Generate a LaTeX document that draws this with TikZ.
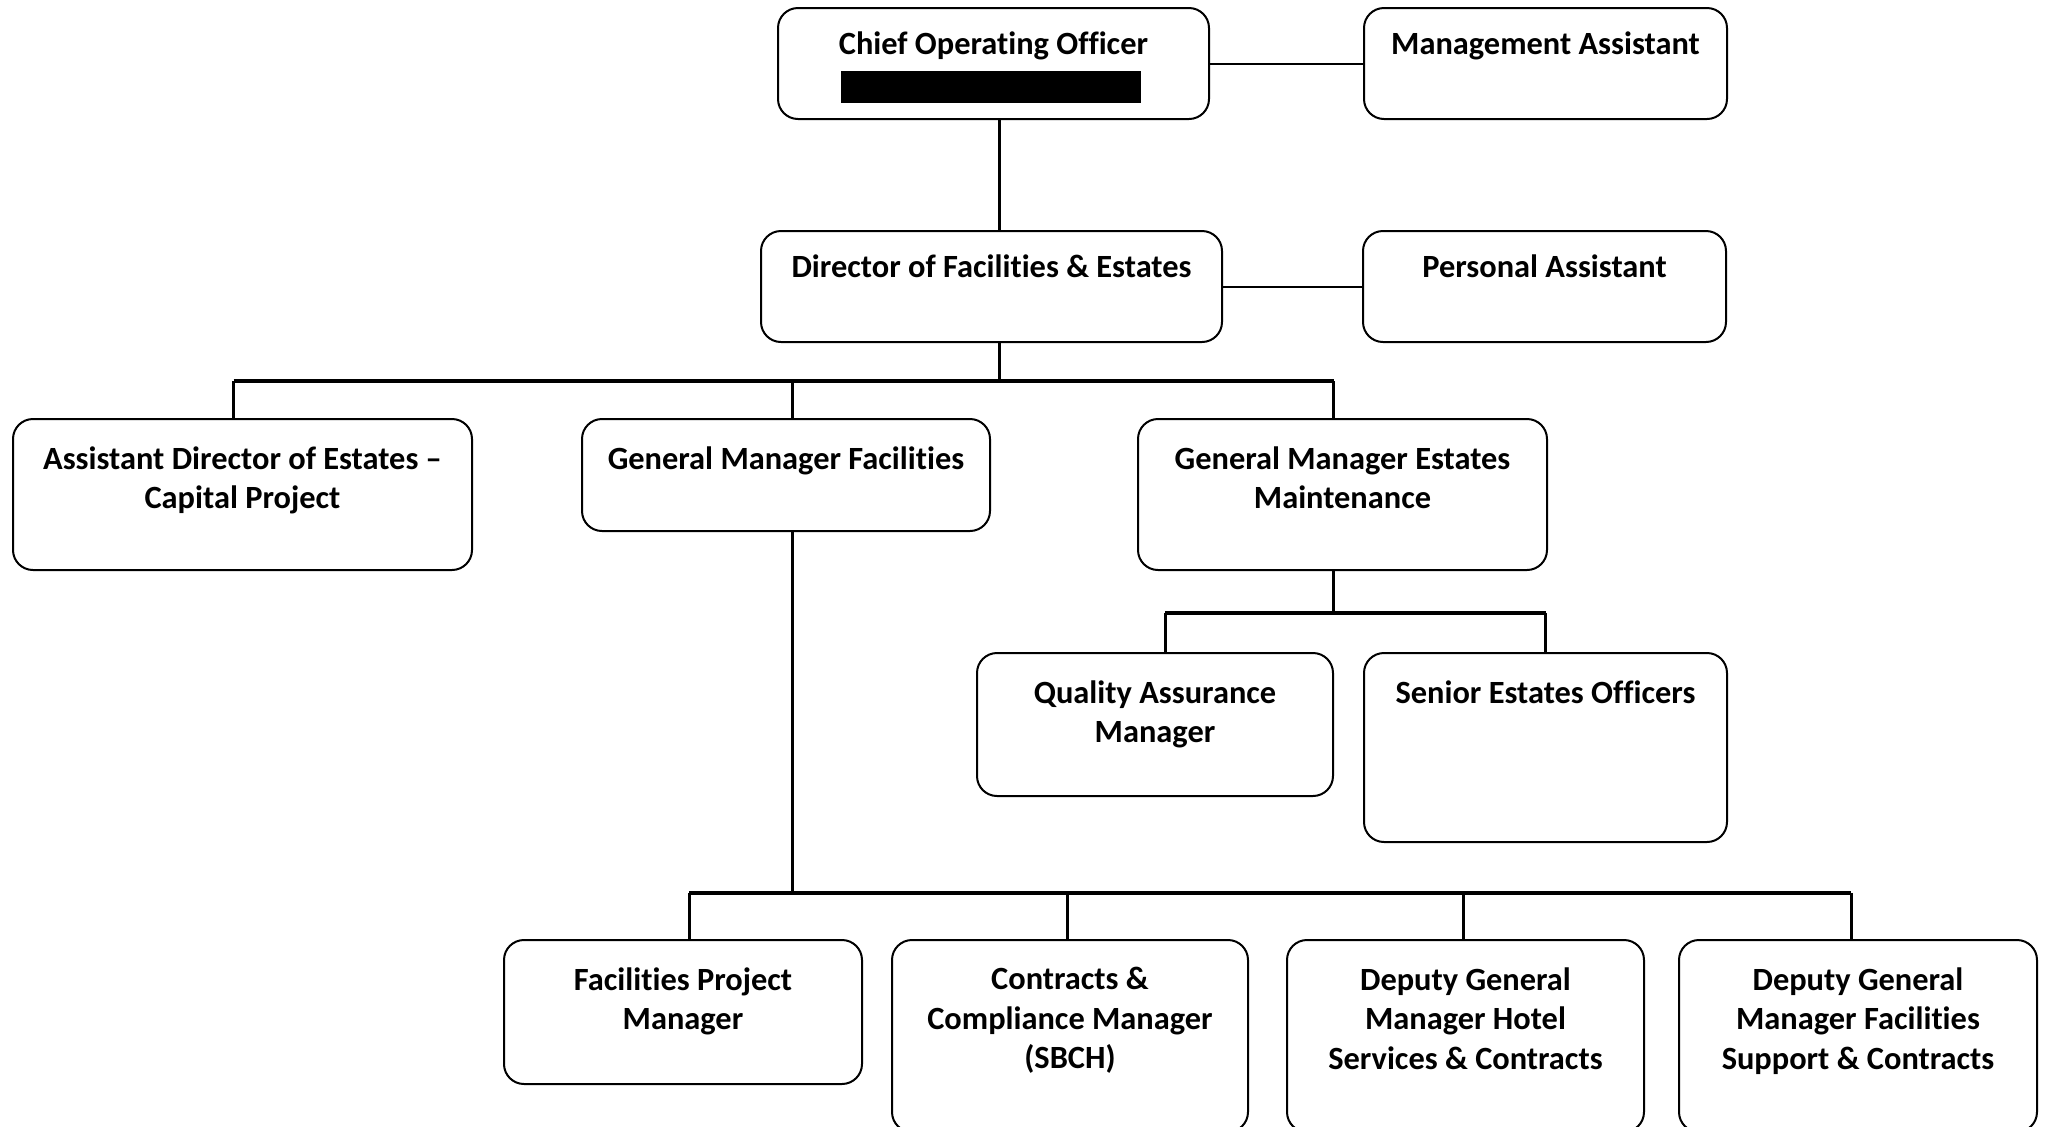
\documentclass[tikz,border=0pt]{standalone}
\usepackage{fontspec}
\setmainfont{Carlito}[Ligatures=CommonOff]
\usepackage{tikz}
\usetikzlibrary{positioning,calc}
\tikzset{post/.style={draw=black,line width=1pt,rounded corners=10pt,inner sep=0pt,fill=white}}
\tikzset{role/.style={anchor=north,yshift=-14pt,align=center,inner sep=0pt,font=\fontsize{16.2}{19.8}\selectfont\bfseries}}

\begin{document}
\begin{tikzpicture}[x=0.5pt,y=-0.5pt]
    \tikzstyle{bus}=[line width=2pt]
    \tikzstyle{drop}=[line width=1.5pt]
    \tikzstyle{side}=[line width=1pt]
    \useasboundingbox (0,0) rectangle (2047,1126);
    \clip (0,0) rectangle (2047,1126);
    % top rows
    \node[post,minimum width=215.5pt,minimum height=55.5pt,label={[role,yshift=2pt]north:Chief Operating Officer}] (coo) at (993.5,63.5) {};
    \node[fill=black,minimum width=150pt,minimum height=16pt,inner sep=0pt] (redact) at (991,87) {};
    \node[post,minimum width=181.5pt,minimum height=55.5pt,label={[role,yshift=2pt]north:Management Assistant}] (ma) at (1545.5,63.5) {};
    \node[post,minimum width=230.5pt,minimum height=55.5pt,label={[role,yshift=2pt]north:Director of Facilities \& Estates}] (dfe) at (991.5,286.5) {};
    \node[post,minimum width=181.5pt,minimum height=55.5pt,label={[role,yshift=2pt]north:Personal Assistant}] (pa) at (1544.5,286.5) {};
    % managers
    \node[post,minimum width=229.5pt,minimum height=75.5pt,label={[role]north:{Assistant Director of Estates –\\Capital Project}}] (ad) at (242.5,494.5) {};
    \node[post,minimum width=204pt,minimum height=56pt,label={[role]north:General Manager Facilities}] (gmf) at (786,475) {};
    \node[post,minimum width=204.5pt,minimum height=75.5pt,label={[role]north:{General Manager Estates\\Maintenance}}] (gme) at (1342.5,494.5) {};
    \node[post,minimum width=178pt,minimum height=71.5pt,label={[role]north:{Quality Assurance\\Manager}}] (qa) at (1155,724.5) {};
    \node[post,minimum width=181.5pt,minimum height=94.5pt,label={[role]north:Senior Estates Officers}] (seo) at (1545.5,747.5) {};
    % bottom row
    \node[post,minimum width=179pt,minimum height=72pt,label={[role]north:{Facilities Project\\Manager}}] (fpm) at (683,1012) {};
    \node[post,minimum width=178pt,minimum height=96pt,label={[role]north:{Contracts \&\\Compliance Manager\\(SBCH)}}] (ccm) at (1070,1036) {};
    \node[post,minimum width=178.5pt,minimum height=96pt,label={[role]north:{Deputy General\\Manager Hotel\\Services \& Contracts}}] (dgmh) at (1465.5,1036) {};
    \node[post,minimum width=179pt,minimum height=96pt,label={[role]north:{Deputy General\\Manager Facilities\\Support \& Contracts}}] (dgmf) at (1858,1036) {};

    \draw[side] (coo) -- (ma);
    \draw[side] (dfe) -- (pa);
    \draw[drop] ([xshift=2.75pt]coo.south) -- ([xshift=2.75pt]coo.south |- dfe.north);

    \draw[drop] ([xshift=3.75pt]dfe.south) -- ++(0,38) coordinate (b1);
    \draw[bus] ([xshift=-4.5pt]b1 -| ad.north) -- ([xshift=-4.5pt]b1 -| gme.north);
    \foreach \n/\dx in {ad/-4.5,gmf/3,gme/-4.5} \draw[drop] ([xshift=\dx pt]b1 -| \n.north) -- ([xshift=\dx pt]\n.north);

    \draw[drop] ([xshift=-4.5pt]gme.south) -- ++(0,42) coordinate (b2);
    \draw[bus] ([xshift=5pt]b2 -| qa.north) -- (b2 -| seo.north);
    \foreach \n/\dx in {qa/5,seo/0} \draw[drop] ([xshift=\dx pt]b2 -| \n.north) -- ([xshift=\dx pt]\n.north);

    \draw[drop] ([xshift=3pt]gmf.south) -- ++(0,361) coordinate (b3);
    \draw[bus] ([xshift=3pt]b3 -| fpm.north) -- ([xshift=-3.5pt]b3 -| dgmf.north);
    \foreach \n/\dx in {fpm/3,ccm/-1.5,dgmh/-1,dgmf/-3.5} \draw[drop] ([xshift=\dx pt]b3 -| \n.north) -- ([xshift=\dx pt]\n.north);
\end{tikzpicture}
\end{document}
